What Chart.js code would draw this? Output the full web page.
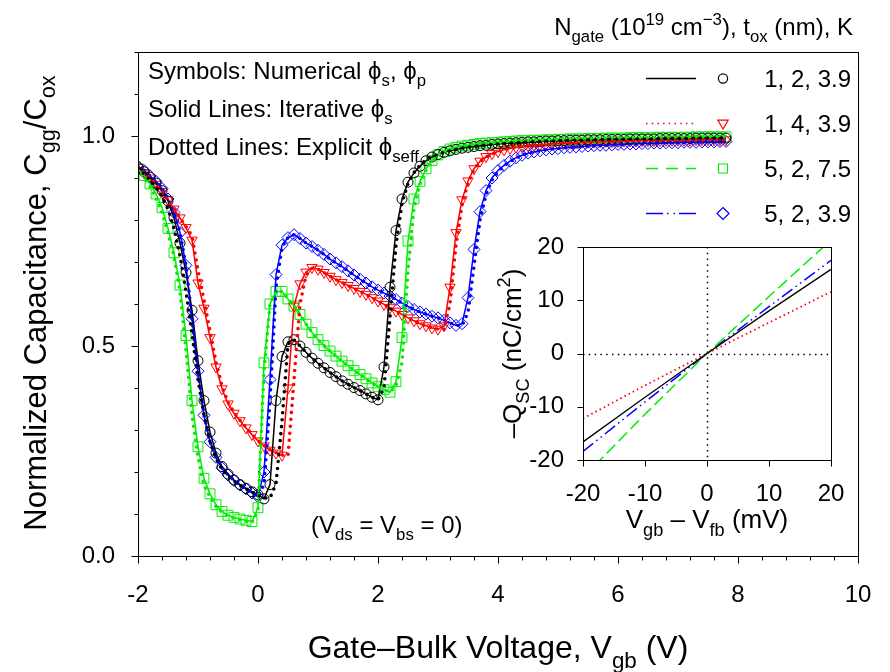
<!DOCTYPE html>
<html><head><meta charset="utf-8">
<script src="https://cdn.jsdelivr.net/npm/chart.js@4.4.0/dist/chart.umd.min.js"></script>
<style>
html,body{margin:0;padding:0;background:#fff;}
#wrap{position:relative;width:890px;height:672px;overflow:hidden;}
#main{position:absolute;left:0;top:0;}
#inset{position:absolute;left:490px;top:225px;}
</style></head><body>
<div id="wrap"><canvas id="main" width="890" height="672"></canvas><canvas id="inset" width="360" height="320"></canvas></div>
<script>
// ---------- DATA ----------
const vgb = [
 -2.0,-1.9,-1.8,-1.7,-1.6,-1.5,-1.4,-1.3,-1.2,-1.1,
 -1.0,-0.9,-0.8,-0.7,-0.6,-0.5,-0.4,-0.3,-0.2,-0.1,
  0.0, 0.1, 0.2, 0.3, 0.4, 0.5, 0.6, 0.7, 0.8, 0.9,
  1.0, 1.1, 1.2, 1.3, 1.4, 1.5, 1.6, 1.7, 1.8, 1.9,
  2.0, 2.1, 2.2, 2.3, 2.4, 2.5, 2.6, 2.7, 2.8, 2.9,
  3.0, 3.1, 3.2, 3.3, 3.4, 3.5, 3.6, 3.7, 3.8, 3.9,
  4.0, 4.1, 4.2, 4.3, 4.4, 4.5, 4.6, 4.7, 4.8, 4.9,
  5.0, 5.1, 5.2, 5.3, 5.4, 5.5, 5.6, 5.7, 5.8, 5.9,
  6.0, 6.1, 6.2, 6.3, 6.4, 6.5, 6.6, 6.7, 6.8, 6.9,
  7.0, 7.1, 7.2, 7.3, 7.4, 7.5, 7.6, 7.7, 7.8];

// Numerical (symbols) = iterative (solid lines)
const capBlack = [
 0.925,0.915,0.902,0.888,0.870,0.845,0.805,0.745,0.675,0.585,
 0.465,0.370,0.295,0.245,0.213,0.195,0.181,0.170,0.161,0.153,
 0.146,0.136,0.170,0.370,0.475,0.510,0.515,0.500,0.485,0.471,
 0.459,0.448,0.437,0.427,0.417,0.409,0.401,0.394,0.386,0.378,
 0.372,0.450,0.640,0.775,0.850,0.890,0.912,0.928,0.941,0.950,
 0.956,0.961,0.965,0.968,0.971,0.973,0.975,0.977,0.978,0.980,
 0.981,0.982,0.983,0.984,0.985,0.986,0.986,0.987,0.988,0.988,
 0.989,0.989,0.990,0.990,0.990,0.991,0.991,0.991,0.992,0.992,
 0.992,0.992,0.993,0.993,0.993,0.993,0.993,0.994,0.994,0.994,
 0.994,0.994,0.994,0.995,0.995,0.995,0.995,0.995,0.995];
const capRed = [
 0.925,0.913,0.900,0.885,0.868,0.848,0.826,0.805,0.782,0.752,
 0.650,0.590,0.520,0.450,0.398,0.362,0.340,0.322,0.305,0.289,
 0.274,0.262,0.252,0.245,0.240,0.400,0.595,0.648,0.676,0.687,
 0.683,0.675,0.666,0.658,0.651,0.644,0.637,0.630,0.623,0.615,
 0.607,0.599,0.591,0.583,0.575,0.567,0.560,0.553,0.548,0.543,
 0.540,0.548,0.640,0.770,0.848,0.893,0.922,0.940,0.951,0.958,
 0.963,0.967,0.970,0.973,0.975,0.977,0.978,0.979,0.980,0.981,
 0.982,0.983,0.983,0.984,0.985,0.985,0.986,0.986,0.987,0.987,
 0.987,0.988,0.988,0.988,0.989,0.989,0.989,0.989,0.990,0.990,
 0.990,0.990,0.990,0.991,0.991,0.991,0.991,0.991,0.991];
const capGreen = [
 0.922,0.906,0.886,0.862,0.830,0.780,0.722,0.645,0.525,0.370,
 0.260,0.185,0.148,0.122,0.106,0.097,0.092,0.088,0.085,0.082,
 0.115,0.460,0.600,0.630,0.630,0.612,0.595,0.575,0.552,0.532,
 0.515,0.501,0.488,0.476,0.464,0.453,0.442,0.432,0.422,0.412,
 0.403,0.396,0.390,0.415,0.520,0.750,0.850,0.892,0.922,0.942,
 0.955,0.963,0.969,0.973,0.976,0.978,0.980,0.982,0.983,0.984,
 0.985,0.986,0.987,0.988,0.989,0.989,0.990,0.990,0.991,0.991,
 0.992,0.992,0.993,0.993,0.993,0.994,0.994,0.994,0.995,0.995,
 0.995,0.995,0.996,0.996,0.996,0.996,0.996,0.997,0.997,0.997,
 0.997,0.997,0.997,0.998,0.998,0.998,0.998,0.998,0.998];
const capBlue = [
 0.928,0.918,0.905,0.892,0.875,0.850,0.818,0.770,0.692,0.565,
 0.440,0.335,0.272,0.235,0.210,0.193,0.180,0.169,0.160,0.150,
 0.141,0.200,0.420,0.670,0.740,0.758,0.765,0.756,0.745,0.737,
 0.728,0.718,0.707,0.698,0.689,0.679,0.669,0.659,0.650,0.641,
 0.633,0.626,0.619,0.611,0.602,0.594,0.587,0.581,0.576,0.571,
 0.567,0.561,0.555,0.549,0.553,0.615,0.730,0.820,0.870,0.900,
 0.918,0.930,0.940,0.948,0.954,0.959,0.962,0.965,0.967,0.969,
 0.970,0.972,0.973,0.974,0.975,0.976,0.977,0.978,0.978,0.979,
 0.980,0.980,0.981,0.981,0.982,0.982,0.983,0.983,0.984,0.984,
 0.984,0.985,0.985,0.985,0.986,0.986,0.986,0.987,0.987];

// Explicit (dotted lines)
const dotBlack = [
 0.922,0.910,0.895,0.878,0.856,0.826,0.780,0.715,0.630,0.530,
 0.420,0.335,0.272,0.232,0.206,0.190,0.178,0.168,0.160,0.152,
 0.145,0.138,0.138,0.172,0.320,0.505,0.515,0.500,0.485,0.471,
 0.459,0.448,0.437,0.427,0.417,0.409,0.401,0.394,0.386,0.378,
 0.372,0.400,0.570,0.740,0.840,0.887,0.913,0.930,0.943,0.952,
 0.956,0.961,0.965,0.968,0.971,0.973,0.975,0.977,0.978,0.980,
 0.981,0.982,0.983,0.984,0.985,0.986,0.986,0.987,0.988,0.988,
 0.989,0.989,0.990,0.990,0.990,0.991,0.991,0.991,0.992,0.992,
 0.992,0.992,0.993,0.993,0.993,0.993,0.993,0.994,0.994,0.994,
 0.994,0.994,0.994,0.995,0.995,0.995,0.995,0.995,0.995];
const dotRed = [
 0.925,0.913,0.900,0.885,0.868,0.848,0.826,0.805,0.784,0.762,
 0.680,0.610,0.535,0.462,0.405,0.366,0.342,0.323,0.306,0.290,
 0.275,0.263,0.253,0.246,0.240,0.238,0.420,0.600,0.668,0.685,
 0.683,0.675,0.666,0.658,0.651,0.644,0.637,0.630,0.623,0.615,
 0.607,0.599,0.591,0.583,0.575,0.567,0.560,0.553,0.548,0.543,
 0.540,0.540,0.600,0.740,0.835,0.888,0.920,0.939,0.950,0.957,
 0.963,0.967,0.970,0.973,0.975,0.977,0.978,0.979,0.980,0.981,
 0.982,0.983,0.983,0.984,0.985,0.985,0.986,0.986,0.987,0.987,
 0.987,0.988,0.988,0.988,0.989,0.989,0.989,0.989,0.990,0.990,
 0.990,0.990,0.990,0.991,0.991,0.991,0.991,0.991,0.991];
const dotGreen = [
 0.920,0.902,0.880,0.852,0.818,0.770,0.712,0.630,0.490,0.335,
 0.235,0.168,0.140,0.118,0.104,0.095,0.090,0.086,0.083,0.080,
 0.110,0.440,0.600,0.630,0.630,0.612,0.595,0.575,0.552,0.532,
 0.515,0.501,0.488,0.476,0.464,0.453,0.442,0.432,0.422,0.412,
 0.403,0.396,0.390,0.405,0.460,0.680,0.830,0.885,0.918,0.940,
 0.955,0.963,0.969,0.973,0.976,0.978,0.980,0.982,0.983,0.984,
 0.985,0.986,0.987,0.988,0.989,0.989,0.990,0.990,0.991,0.991,
 0.992,0.992,0.993,0.993,0.993,0.994,0.994,0.994,0.995,0.995,
 0.995,0.995,0.996,0.996,0.996,0.996,0.996,0.997,0.997,0.997,
 0.997,0.997,0.997,0.998,0.998,0.998,0.998,0.998,0.998];
const dotBlue = [
 0.928,0.918,0.905,0.892,0.875,0.850,0.818,0.770,0.692,0.565,
 0.440,0.335,0.272,0.235,0.210,0.193,0.180,0.169,0.160,0.150,
 0.141,0.170,0.370,0.640,0.735,0.758,0.765,0.756,0.745,0.737,
 0.728,0.718,0.707,0.698,0.689,0.679,0.669,0.659,0.650,0.641,
 0.633,0.626,0.619,0.611,0.602,0.594,0.587,0.581,0.576,0.571,
 0.567,0.561,0.555,0.549,0.548,0.580,0.690,0.800,0.860,0.895,
 0.916,0.929,0.939,0.948,0.954,0.959,0.962,0.965,0.967,0.969,
 0.970,0.972,0.973,0.974,0.975,0.976,0.977,0.978,0.978,0.979,
 0.980,0.980,0.981,0.981,0.982,0.982,0.983,0.983,0.984,0.984,
 0.984,0.985,0.985,0.985,0.986,0.986,0.986,0.987,0.987];

const legendLabels = ['1, 2, 3.9', '1, 4, 3.9', '5, 2, 7.5', '5, 2, 3.9'];

// Inset: -Qsc (nC/cm^2) vs Vgb - Vfb (mV)
const dV = [-20, -10, 0, 10, 20];
const qBlack = [-16.6, -8.2, 0, 8.0, 15.8];
const qRed   = [-12.2, -6.0, 0, 5.8, 11.6];
const qGreen = [-23.3, -11.4, 0, 10.7, 21.3];
const qBlue  = [-18.4, -9.1, 0, 8.8, 17.5];

const xTickVals = [-2, 0, 2, 4, 6, 8, 10];
const yTickVals = [0, 0.5, 1.0];

// ---------- STYLE ----------
const FF = '"Liberation Sans", Arial, Helvetica, sans-serif';
Chart.defaults.font.family = FF;
Chart.defaults.color = '#000';
const BLACK = '#000000', RED = '#ff0000', GREEN = '#00ee00', BLUE = '#0000ff';
const NOCOL = 'rgba(0,0,0,0)';

function pts(xs, ys) { return xs.map((x, i) => ({x: x, y: ys[i]})); }

function drawRich(ctx, parts, x, y, size, align) {
  const sc = 0.7;
  let w = 0;
  const m = parts.map(p => {
    const s = p[1] ? size * sc : size;
    ctx.font = s + 'px ' + FF;
    const wd = ctx.measureText(p[0]).width;
    w += wd;
    return {t: p[0], k: p[1], s: s, w: wd};
  });
  let cx = align === 'center' ? x - w / 2 : (align === 'right' ? x - w : x);
  ctx.textAlign = 'left';
  ctx.textBaseline = 'alphabetic';
  m.forEach(p => {
    ctx.font = p.s + 'px ' + FF;
    const dy = p.k === 'sub' ? size * 0.3 : (p.k === 'sup' ? -size * 0.42 : 0);
    ctx.fillText(p.t, cx, y + dy);
    cx += p.w;
  });
}
function drawRichRot(ctx, parts, x, y, size) {
  ctx.save();
  ctx.translate(x, y);
  ctx.rotate(-Math.PI / 2);
  drawRich(ctx, parts, 0, 0, size, 'center');
  ctx.restore();
}
function legendSym(ctx, kind, x, y, color) {
  ctx.save();
  ctx.strokeStyle = color; ctx.lineWidth = 1.2; ctx.setLineDash([]);
  ctx.beginPath();
  if (kind === 'circle') ctx.arc(x, y, 4.6, 0, Math.PI * 2);
  else if (kind === 'tri') { ctx.moveTo(x, y + 5.5); ctx.lineTo(x - 5.2, y - 3.4); ctx.lineTo(x + 5.2, y - 3.4); ctx.closePath(); }
  else if (kind === 'square') ctx.rect(x - 4.5, y - 4.5, 9, 9);
  else { ctx.moveTo(x, y - 6); ctx.lineTo(x + 6, y); ctx.lineTo(x, y + 6); ctx.lineTo(x - 6, y); ctx.closePath(); }
  ctx.stroke();
  ctx.restore();
}

const legendRows = [
  {color: BLACK, dash: [], width: 1.5, sym: 'circle'},
  {color: RED, dash: [1.5, 4.2], width: 1.5, sym: 'tri'},
  {color: GREEN, dash: [12, 8], width: 1.5, sym: 'square'},
  {color: BLUE, dash: [17, 4, 1.5, 5, 1.5, 4], width: 1.5, sym: 'diamond'}
];

const mainDecor = {
  id: 'mainDecor',
  afterDraw(chart) {
    const ctx = chart.ctx, a = chart.chartArea, x = chart.scales.x, y = chart.scales.y;
    ctx.save();
    ctx.strokeStyle = '#000'; ctx.lineWidth = 1; ctx.setLineDash([]);
    const L = Math.round(a.left) + 0.5, T = Math.round(a.top) + 0.5;
    const R = Math.round(a.right) + 0.5, B = Math.round(a.bottom) + 0.5;
    ctx.strokeRect(L, T, R - L, B - T);
    ctx.beginPath();
    for (let k = 0; k <= 30; k++) {
      const px = Math.round(x.getPixelForValue(-2 + k * 0.4)) + 0.5;
      const len = (k % 5 === 0) ? 7 : 4;
      ctx.moveTo(px, B); ctx.lineTo(px, B + len);
    }
    for (let k = 0; k <= 12; k++) {
      const py = Math.round(y.getPixelForValue(k * 0.1)) + 0.5;
      const len = (k % 5 === 0) ? 7 : 4;
      ctx.moveTo(L, py); ctx.lineTo(L - len, py);
    }
    ctx.stroke();

    ctx.fillStyle = '#000';
    drawRich(ctx, [['Symbols: Numerical \u03D5', ''], ['s', 'sub'], [', \u03D5', ''], ['p', 'sub']], 148, 79, 24, 'left');
    drawRich(ctx, [['Solid Lines: Iterative \u03D5', ''], ['s', 'sub']], 148, 117, 24, 'left');
    drawRich(ctx, [['Dotted Lines: Explicit \u03D5', ''], ['seff', 'sub']], 148, 155, 24, 'left');
    drawRich(ctx, [['(V', ''], ['ds', 'sub'], [' = V', ''], ['bs', 'sub'], [' = 0)', '']], 311, 533, 24, 'left');
    drawRich(ctx, [['N', ''], ['gate', 'sub'], [' (10', ''], ['19', 'sup'], [' cm', ''], ['\u22123', 'sup'], ['), t', ''], ['ox', 'sub'], [' (nm), K', '']], 853, 35, 24, 'right');
    const rowY = [78, 123, 168, 213];
    legendRows.forEach((r, i) => {
      const yy = rowY[i] + 0.5;
      ctx.save();
      ctx.strokeStyle = r.color; ctx.lineWidth = r.width; ctx.setLineDash(r.dash);
      ctx.beginPath(); ctx.moveTo(646, yy); ctx.lineTo(696, yy); ctx.stroke();
      ctx.restore();
      legendSym(ctx, r.sym, 723, yy, r.color);
      ctx.fillStyle = '#000';
      drawRich(ctx, [[legendLabels[i], '']], 851, rowY[i] + 9, 24, 'right');
    });
    drawRich(ctx, [['Gate\u2013Bulk Voltage, V', ''], ['gb', 'sub'], [' (V)', '']], (a.left + a.right) / 2, 658, 32, 'center');
    drawRichRot(ctx, [['Normalized Capacitance, C', ''], ['gg', 'sub'], ['/C', ''], ['ox', 'sub']], 46, 303, 31);
    ctx.restore();
  }
};

function symSet(data, color, style, radius, rot) {
  return {data: data, showLine: false, pointStyle: style, pointRadius: radius, pointRotation: rot || 0,
    pointBorderColor: color, pointBackgroundColor: NOCOL, pointBorderWidth: 1, order: 2};
}
function solidSet(data, color) {
  return {data: data, borderColor: color, borderWidth: 1.5, pointRadius: 0, tension: 0, fill: false, order: 1};
}
function dotSet(data, color) {
  return {data: data, borderColor: color, borderWidth: 3.6, borderDash: [0, 7], borderCapStyle: 'round',
    pointRadius: 0, tension: 0, fill: false, order: 0};
}
function axisOpts(min, max, fitKey, fitVal, tickVals, labelGap, fmt) {
  const o = {type: 'linear', min: min, max: max,
    afterFit: s => { s[fitKey] = fitVal; },
    afterBuildTicks: s => { s.ticks = tickVals.map(v => ({value: v})); },
    ticks: {padding: 0, color: '#000', font: {size: 24, family: FF}, maxRotation: 0, autoSkip: false},
    grid: {display: true, drawOnChartArea: false, drawTicks: true, tickLength: labelGap, tickColor: NOCOL},
    border: {display: true, color: '#000', width: 1}};
  if (fmt) o.ticks.callback = fmt;
  return o;
}

new Chart(document.getElementById('main'), {
  type: 'line',
  data: {
    datasets: [
      symSet(pts(vgb, capBlack), BLACK, 'circle', 5),
      symSet(pts(vgb, capRed), RED, 'triangle', 6, 180),
      symSet(pts(vgb, capGreen), GREEN, 'rect', 7),
      symSet(pts(vgb, capBlue), BLUE, 'rectRot', 6),
      solidSet(pts(vgb, capBlack), BLACK),
      solidSet(pts(vgb, capRed), RED),
      solidSet(pts(vgb, capGreen), GREEN),
      solidSet(pts(vgb, capBlue), BLUE),
      dotSet(pts(vgb, dotBlack), BLACK),
      dotSet(pts(vgb, dotRed), RED),
      dotSet(pts(vgb, dotGreen), GREEN),
      dotSet(pts(vgb, dotBlue), BLUE)
    ]
  },
  options: {
    responsive: false, animation: false, devicePixelRatio: 1,
    layout: {padding: {left: 0, right: 32, top: 52, bottom: 0}},
    plugins: {legend: {display: false}, tooltip: {enabled: false}},
    scales: {
      x: axisOpts(-2, 10, 'height', 116, xTickVals, 25, v => String(v)),
      y: axisOpts(0, 1.2, 'width', 138, yTickVals, 23, v => Number(v).toFixed(1))
    }
  },
  plugins: [mainDecor]
});

// ---------- INSET ----------
const insetDecor = {
  id: 'insetDecor',
  beforeDatasetsDraw(chart) {
    const ctx = chart.ctx, a = chart.chartArea, x = chart.scales.x, y = chart.scales.y;
    ctx.save();
    ctx.strokeStyle = '#000'; ctx.lineWidth = 1.5; ctx.setLineDash([1.5, 4.3]);
    const x0 = Math.round(x.getPixelForValue(0)) + 0.5, y0 = Math.round(y.getPixelForValue(0)) + 0.5;
    ctx.beginPath(); ctx.moveTo(x0, a.top); ctx.lineTo(x0, a.bottom); ctx.stroke();
    ctx.beginPath(); ctx.moveTo(a.left, y0); ctx.lineTo(a.right, y0); ctx.stroke();
    ctx.restore();
  },
  afterDraw(chart) {
    const ctx = chart.ctx, a = chart.chartArea, x = chart.scales.x, y = chart.scales.y;
    ctx.save();
    ctx.strokeStyle = '#000'; ctx.lineWidth = 1; ctx.setLineDash([]);
    const L = Math.round(a.left) + 0.5, T = Math.round(a.top) + 0.5;
    const R = Math.round(a.right) + 0.5, B = Math.round(a.bottom) + 0.5;
    ctx.strokeRect(L, T, R - L, B - T);
    ctx.beginPath();
    dV.forEach(v => {
      const px = Math.round(x.getPixelForValue(v)) + 0.5;
      ctx.moveTo(px, B); ctx.lineTo(px, B + 6);
      const py = Math.round(y.getPixelForValue(v)) + 0.5;
      ctx.moveTo(L, py); ctx.lineTo(L - 6, py);
    });
    ctx.stroke();
    ctx.fillStyle = '#000';
    drawRich(ctx, [['V', ''], ['gb', 'sub'], [' \u2013 V', ''], ['fb', 'sub'], [' (mV)', '']], (a.left + a.right) / 2, 303, 26, 'center');
    drawRichRot(ctx, [['\u2013Q', ''], ['SC', 'sub'], [' (nC/cm', ''], ['2', 'sup'], [')', '']], 31, (a.top + a.bottom) / 2, 26);
    ctx.restore();
  }
};

new Chart(document.getElementById('inset'), {
  type: 'line',
  data: {
    datasets: [
      {data: pts(dV, qBlack), borderColor: BLACK, borderWidth: 1.3, pointRadius: 0, fill: false},
      {data: pts(dV, qRed), borderColor: RED, borderWidth: 1.8, borderDash: [1.5, 3.2], pointRadius: 0, fill: false},
      {data: pts(dV, qGreen), borderColor: GREEN, borderWidth: 1.5, borderDash: [12, 5], pointRadius: 0, fill: false},
      {data: pts(dV, qBlue), borderColor: BLUE, borderWidth: 1.5, borderDash: [13, 4, 1.5, 4, 1.5, 4], pointRadius: 0, fill: false}
    ]
  },
  options: {
    responsive: false, animation: false, devicePixelRatio: 1,
    layout: {padding: {left: 0, right: 19, top: 22, bottom: 0}},
    plugins: {legend: {display: false}, tooltip: {enabled: false}},
    scales: {
      x: axisOpts(-20, 20, 'height', 85, dV, 20),
      y: axisOpts(-20, 20, 'width', 93, dV, 19)
    }
  },
  plugins: [insetDecor]
});
</script>
</body></html>
